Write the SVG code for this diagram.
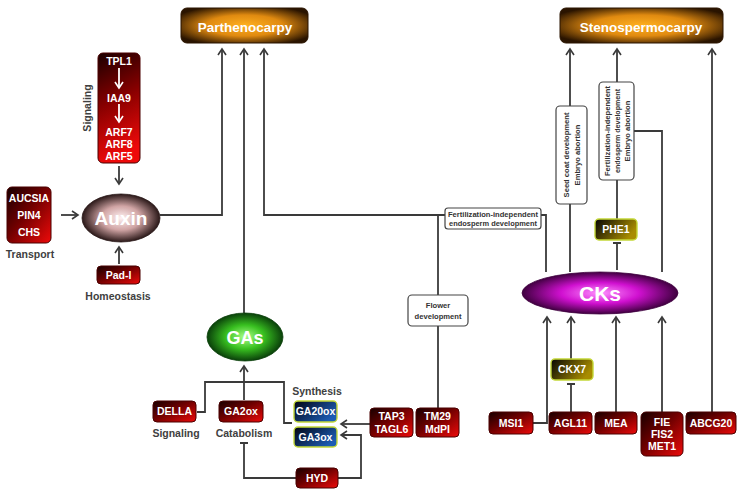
<svg xmlns="http://www.w3.org/2000/svg" width="742" height="496" viewBox="0 0 742 496">
<defs>
<style>
.ln{fill:none;stroke:#3a3a3a;stroke-width:1.8}
.bx{stroke:#4a0000;stroke-width:1}
.wt{fill:#fff;font-family:"Liberation Sans",Arial,sans-serif;font-weight:bold;font-size:10.5px;text-anchor:middle}
.lb{fill:#404040;font-family:"Liberation Sans",Arial,sans-serif;font-weight:bold;font-size:10.5px;text-anchor:middle}
.sm{fill:#333;font-family:"Liberation Sans",Arial,sans-serif;font-weight:bold;font-size:7.6px;text-anchor:middle}
.note{fill:#fff;stroke:#444;stroke-width:1.2}
.big{fill:#fff;font-family:"Liberation Sans",Arial,sans-serif;font-weight:bold;text-anchor:middle}
</style>
<linearGradient id="red" x1="0" y1="0" x2="1" y2="1">
<stop offset="0" stop-color="#160000"/><stop offset="0.45" stop-color="#700000"/><stop offset="1" stop-color="#ee0a0a"/>
</linearGradient>
<linearGradient id="redv" x1="0" y1="0" x2="0.2" y2="1">
<stop offset="0" stop-color="#1a0000"/><stop offset="0.5" stop-color="#8a0000"/><stop offset="1" stop-color="#ee0a0a"/>
</linearGradient>
<linearGradient id="olive" x1="0" y1="0" x2="1" y2="0.4">
<stop offset="0" stop-color="#050505"/><stop offset="1" stop-color="#a88c00"/>
</linearGradient>
<linearGradient id="blue" x1="0" y1="0" x2="1" y2="0.6">
<stop offset="0" stop-color="#03030f"/><stop offset="1" stop-color="#1c5cb4"/>
</linearGradient>
<radialGradient id="orange" cx="0.5" cy="0.5" r="0.6">
<stop offset="0" stop-color="#ffb020"/><stop offset="0.5" stop-color="#e08a10"/><stop offset="1" stop-color="#2a1400"/>
</radialGradient>
<radialGradient id="aux" cx="0.5" cy="0.5" r="0.5">
<stop offset="0" stop-color="#fff2f2"/><stop offset="0.5" stop-color="#d0a4a4"/><stop offset="1" stop-color="#2a1818"/>
</radialGradient>
<radialGradient id="ga" cx="0.5" cy="0.5" r="0.5">
<stop offset="0" stop-color="#a8ff88"/><stop offset="0.5" stop-color="#38c020"/><stop offset="1" stop-color="#0a400a"/>
</radialGradient>
<radialGradient id="ck" cx="0.5" cy="0.5" r="0.5">
<stop offset="0" stop-color="#ff90ff"/><stop offset="0.5" stop-color="#d010d0"/><stop offset="1" stop-color="#400040"/>
</radialGradient>
<marker id="arr" viewBox="-8 -5 10 10" refX="0" refY="0" markerWidth="10" markerHeight="10" markerUnits="userSpaceOnUse" orient="auto">
<path d="M-6,-4 L0,0 L-6,4" fill="none" stroke="#3a3a3a" stroke-width="1.6"/>
</marker>
<marker id="arrw" viewBox="-8 -5 10 10" refX="0" refY="0" markerWidth="10" markerHeight="10" markerUnits="userSpaceOnUse" orient="auto">
<path d="M-6,-4 L0,0 L-6,4" fill="none" stroke="#fff" stroke-width="1.6"/>
</marker>
<marker id="tee" viewBox="-2 -5 4 10" refX="0" refY="0" markerWidth="4" markerHeight="10" markerUnits="userSpaceOnUse" orient="auto">
<path d="M0,-4 L0,4" stroke="#3a3a3a" stroke-width="2"/>
</marker>
</defs>
<rect width="742" height="496" fill="#fff"/>

<g id="connectors">
<path class="ln" d="M160,215 H222 V49" marker-end="url(#arr)"/>
<path class="ln" d="M244,313 V49" marker-end="url(#arr)"/>
<path class="ln" d="M445,215 H264 V49" marker-end="url(#arr)"/>
<path class="ln" d="M438,215 V295"/>
<path class="ln" d="M438,326 V408"/>
<path class="ln" d="M546,272 V215 H541"/>
<path class="ln" d="M570,272 V49" marker-end="url(#arr)"/>
<path class="ln" d="M617,270 V243" marker-end="url(#tee)"/>
<path class="ln" d="M617,219 V49" marker-end="url(#arr)"/>
<path class="ln" d="M662,272 V131 H634"/>
<path class="ln" d="M712,412 V49" marker-end="url(#arr)"/>
<path class="ln" d="M533,423 H547 V317" marker-end="url(#arr)"/>
<path class="ln" d="M571,412 V384" marker-end="url(#tee)"/>
<path class="ln" d="M571,359 V317" marker-end="url(#arr)"/>
<path class="ln" d="M616,412 V317" marker-end="url(#arr)"/>
<path class="ln" d="M662,412 V317" marker-end="url(#arr)"/>
<path class="ln" d="M119,166 V184" marker-end="url(#arr)"/>
<path class="ln" d="M61,215 H78" marker-end="url(#arr)"/>
<path class="ln" d="M119,264 V247" marker-end="url(#arr)"/>
<path class="ln" d="M244,400 V366" marker-end="url(#arr)"/>
<path class="ln" d="M197,412 H205 V382 H284 V423 H292"/>
<path class="ln" d="M370,424 H341" marker-end="url(#arr)"/>
<path class="ln" d="M338,478 H361 V435 H341" marker-end="url(#arr)"/>
<path class="ln" d="M296,478 H244 V443" marker-end="url(#tee)"/>
</g>

<g id="parthenocarpy">
<rect x="181" y="8" width="127" height="35" rx="6" fill="url(#orange)" stroke="#2a1400"/>
<text class="big" x="245" y="32" font-size="13.5">Parthenocarpy</text>
</g>
<g id="stenospermocarpy">
<rect x="560" y="8" width="163" height="35" rx="6" fill="url(#orange)" stroke="#2a1400"/>
<text class="big" x="641" y="32" font-size="13.5">Stenospermocarpy</text>
</g>

<g id="signaling-auxin">
<rect class="bx" x="98" y="53" width="42" height="110" rx="5" fill="url(#redv)"/>
<text class="wt" x="119" y="65">TPL1</text>
<path d="M119,68 V88" fill="none" stroke="#fff" stroke-width="1.8" marker-end="url(#arrw)"/>
<text class="wt" x="119" y="102">IAA9</text>
<path d="M119,104 V122" fill="none" stroke="#fff" stroke-width="1.8" marker-end="url(#arrw)"/>
<text class="wt" x="119" y="136">ARF7</text>
<text class="wt" x="119" y="148">ARF8</text>
<text class="wt" x="119" y="160">ARF5</text>
<text class="lb" transform="translate(91,108) rotate(-90)">Signaling</text>
</g>

<g id="auxin">
<ellipse cx="121" cy="218" rx="39" ry="24" fill="url(#aux)" stroke="#2a1818" stroke-width="0.8"/>
<text class="big" x="121" y="225" font-size="19">Auxin</text>
</g>

<g id="transport">
<rect class="bx" x="7" y="187" width="44" height="56" rx="5" fill="url(#red)"/>
<text class="wt" x="29" y="202">AUCSIA</text>
<text class="wt" x="29" y="219">PIN4</text>
<text class="wt" x="29" y="236">CHS</text>
<text class="lb" x="30" y="258">Transport</text>
</g>

<g id="padi">
<rect class="bx" x="97" y="266" width="43" height="18" rx="4" fill="url(#red)"/>
<text class="wt" x="118.5" y="279">Pad-I</text>
<text class="lb" x="118" y="300">Homeostasis</text>
</g>

<g id="gas">
<ellipse cx="245" cy="337" rx="38" ry="24" fill="url(#ga)" stroke="#0a400a" stroke-width="0.8"/>
<text class="big" x="245" y="344" font-size="18">GAs</text>
</g>

<g id="della">
<rect class="bx" x="153" y="401" width="43" height="21" rx="4" fill="url(#red)"/>
<text class="wt" x="174.5" y="415">DELLA</text>
<text class="lb" x="176" y="437">Signaling</text>
</g>
<g id="ga2ox">
<rect class="bx" x="219" y="401" width="44" height="21" rx="4" fill="url(#red)"/>
<text class="wt" x="241" y="415">GA2ox</text>
<text class="lb" x="244" y="437">Catabolism</text>
</g>
<g id="synthesis">
<text class="lb" x="317" y="395">Synthesis</text>
<rect x="294" y="401" width="43" height="21" rx="4" fill="url(#blue)" stroke="#c4d838" stroke-width="1.4"/>
<text class="wt" x="315.5" y="415">GA20ox</text>
<rect x="294" y="427" width="43" height="20" rx="4" fill="url(#blue)" stroke="#c4d838" stroke-width="1.4"/>
<text class="wt" x="315.5" y="441">GA3ox</text>
</g>
<g id="hyd">
<rect class="bx" x="296" y="468" width="42" height="20" rx="4" fill="url(#red)"/>
<text class="wt" x="317" y="482">HYD</text>
</g>
<g id="tap3">
<rect class="bx" x="370" y="408" width="43" height="29" rx="4" fill="url(#red)"/>
<text class="wt" x="391.5" y="420">TAP3</text>
<text class="wt" x="391.5" y="433">TAGL6</text>
</g>
<g id="tm29">
<rect class="bx" x="416" y="408" width="43" height="29" rx="4" fill="url(#red)"/>
<text class="wt" x="437.5" y="420">TM29</text>
<text class="wt" x="437.5" y="433">MdPI</text>
</g>

<g id="flower-development">
<rect class="note" x="408" y="295" width="60" height="31" rx="4"/>
<text class="sm" x="438" y="308" font-size="8">Flower</text>
<text class="sm" x="438" y="319" font-size="8">development</text>
</g>
<g id="fert-endosperm">
<rect class="note" x="445" y="208" width="96" height="21" rx="3"/>
<text class="sm" x="493" y="217" textLength="90" lengthAdjust="spacingAndGlyphs">Fertilization-independent</text>
<text class="sm" x="493" y="226" textLength="88" lengthAdjust="spacingAndGlyphs">endosperm development</text>
</g>
<g id="seed-coat">
<rect class="note" x="556" y="106" width="31" height="98" rx="4"/>
<g transform="translate(571,155) rotate(-90)">
<text class="sm" x="0" y="-2" font-size="8">Seed coat development</text>
<text class="sm" x="0" y="9" font-size="8">Embryo abortion</text>
</g>
</g>
<g id="fert-embryo">
<rect class="note" x="599" y="82" width="35" height="98" rx="4"/>
<g transform="translate(617,131) rotate(-90)">
<text class="sm" x="0" y="-7" textLength="90" lengthAdjust="spacingAndGlyphs">Fertilization-independent</text>
<text class="sm" x="0" y="3" textLength="84" lengthAdjust="spacingAndGlyphs">endosperm development</text>
<text class="sm" x="0" y="13">Embryo abortion</text>
</g>
</g>
<g id="phe1">
<rect x="595" y="219" width="42" height="21" rx="4" fill="url(#olive)" stroke="#c4d838" stroke-width="1.4"/>
<text class="wt" x="616" y="233">PHE1</text>
</g>

<g id="cks">
<ellipse cx="600" cy="293" rx="78" ry="21" fill="url(#ck)" stroke="#400040" stroke-width="0.8"/>
<text class="big" x="600" y="301" font-size="21">CKs</text>
</g>
<g id="ckx7">
<rect x="551" y="359" width="42" height="21" rx="4" fill="url(#olive)" stroke="#c4d838" stroke-width="1.4"/>
<text class="wt" x="572" y="373">CKX7</text>
</g>
<g id="msi1">
<rect class="bx" x="489" y="412" width="44" height="22" rx="4" fill="url(#red)"/>
<text class="wt" x="511" y="427">MSI1</text>
</g>
<g id="agl11">
<rect class="bx" x="549" y="412" width="43" height="22" rx="4" fill="url(#red)"/>
<text class="wt" x="570.5" y="427">AGL11</text>
</g>
<g id="mea">
<rect class="bx" x="595" y="412" width="42" height="22" rx="4" fill="url(#red)"/>
<text class="wt" x="616" y="427">MEA</text>
</g>
<g id="fie">
<rect class="bx" x="641" y="412" width="42" height="44" rx="5" fill="url(#red)"/>
<text class="wt" x="662" y="426">FIE</text>
<text class="wt" x="662" y="438">FIS2</text>
<text class="wt" x="662" y="450">MET1</text>
</g>
<g id="abcg20">
<rect class="bx" x="686" y="412" width="50" height="22" rx="4" fill="url(#red)"/>
<text class="wt" x="711" y="427">ABCG20</text>
</g>
</svg>
